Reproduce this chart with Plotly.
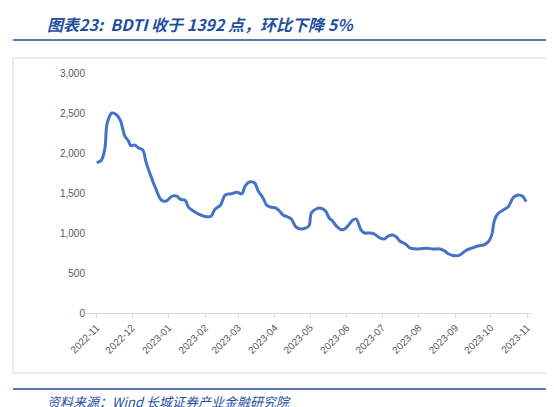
import plotly.graph_objects as go

dates = ["2022-11-01","2022-11-05","2022-11-08","2022-11-10","2022-11-14","2022-11-18","2022-11-21","2022-11-25",
"2022-11-28","2022-11-30","2022-12-03","2022-12-07","2022-12-10","2022-12-13","2022-12-16","2022-12-21","2022-12-26",
"2022-12-30","2023-01-04","2023-01-08","2023-01-11","2023-01-15","2023-01-18","2023-01-22","2023-01-26","2023-01-31",
"2023-02-06","2023-02-09","2023-02-14","2023-02-18","2023-02-23","2023-02-28","2023-03-04","2023-03-07","2023-03-11",
"2023-03-15","2023-03-18","2023-03-22","2023-03-25","2023-03-28","2023-04-02","2023-04-05","2023-04-08","2023-04-12",
"2023-04-15","2023-04-19","2023-04-23","2023-04-27","2023-04-30","2023-05-02","2023-05-06","2023-05-10","2023-05-14",
"2023-05-17","2023-05-20","2023-05-23","2023-05-28","2023-05-31","2023-06-02","2023-06-06","2023-06-09","2023-06-13",
"2023-06-16","2023-06-20","2023-06-24","2023-06-29","2023-07-03","2023-07-06","2023-07-10","2023-07-13","2023-07-16",
"2023-07-21","2023-07-25","2023-08-01","2023-08-08","2023-08-13","2023-08-19","2023-08-23","2023-08-26","2023-08-30",
"2023-09-04","2023-09-08","2023-09-11","2023-09-15","2023-09-21","2023-09-25","2023-09-29","2023-10-02","2023-10-04",
"2023-10-07","2023-10-12","2023-10-16","2023-10-20","2023-10-24","2023-10-28","2023-10-31"]
bdti = [1880,1910,2060,2375,2500,2475,2410,2210,2150,2090,2100,2060,2040,1880,1750,1560,1410,1400,1460,1460,1420,1410,
1320,1275,1240,1210,1210,1290,1350,1475,1490,1510,1490,1590,1640,1625,1525,1440,1350,1325,1310,1275,1225,1200,1175,
1075,1050,1060,1090,1250,1300,1310,1275,1190,1150,1090,1040,1060,1090,1160,1175,1040,1000,1000,990,940,925,960,975,
950,900,860,810,800,810,800,800,775,740,720,720,760,790,810,840,850,890,980,1150,1240,1290,1330,1440,1475,1460,1392]
tick_vals = ["2022-11-01","2022-12-01","2023-01-01","2023-02-01","2023-03-01","2023-04-01","2023-05-01",
"2023-06-01","2023-07-01","2023-08-01","2023-09-01","2023-10-01","2023-11-01"]
tick_text = ["2022-11","2022-12","2023-01","2023-02","2023-03","2023-04","2023-05","2023-06","2023-07",
"2023-08","2023-09","2023-10","2023-11"]

fig = go.Figure(go.Scatter(x=dates, y=bdti, mode="lines", line=dict(color="#4472C4", width=3), line_shape="spline"))
gray = "#595959"
fig.update_layout(
    width=554, height=407, paper_bgcolor="white", plot_bgcolor="white", showlegend=False,
    margin=dict(l=78, r=30, t=65, b=102),
    font=dict(family="Noto Sans CJK SC", color=gray, size=10),
    xaxis=dict(type="date", range=["2022-10-23", "2023-11-05"], tickvals=tick_vals, ticktext=tick_text,
               tickangle=-45, showgrid=False, showline=True, linecolor="#D9D9D9", ticks="outside",
               tickcolor="#D9D9D9", ticklen=4, automargin=False,
               tickfont=dict(size=10, color=gray, family="Liberation Sans")),
    yaxis=dict(range=[0, 3000], dtick=500, tickformat=",", showgrid=False, zeroline=False, automargin=False,
               tickfont=dict(size=10, color=gray, family="Liberation Sans")),
    shapes=[
        dict(type="rect", xref="paper", yref="paper", x0=-73/446, x1=(549-78)/446, y0=-(365-305)/240, y1=(305-50)/240,
             line=dict(color="#D9D9D9", width=1)),
        dict(type="line", xref="paper", yref="paper", x0=-73/446, x1=(549-78)/446, y0=(305-32)/240, y1=(305-32)/240,
             line=dict(color="#1F4E9E", width=1.5)),
        dict(type="line", xref="paper", yref="paper", x0=-73/446, x1=(549-78)/446, y0=(305-381)/240, y1=(305-381)/240,
             line=dict(color="#1F4E9E", width=1.5)),
    ],
    annotations=[
        dict(text="<i><b>图表23:  BDTI 收于 1392 点，环比下降 5%</b></i>", xref="paper", yref="paper",
             x=-41/446, y=(305-16)/240, xanchor="left", yanchor="middle", showarrow=False,
             font=dict(size=16, color="#1F4E9E", family="Noto Sans CJK SC")),
        dict(text="<i>资料来源：Wind 长城证券产业金融研究院</i>", xref="paper", yref="paper",
             x=-41/446, y=(305-393)/240, xanchor="left", yanchor="middle", showarrow=False,
             font=dict(size=13, color="#1F4E9E", family="Noto Sans CJK SC")),
    ],
)
fig.write_html("out.html")
